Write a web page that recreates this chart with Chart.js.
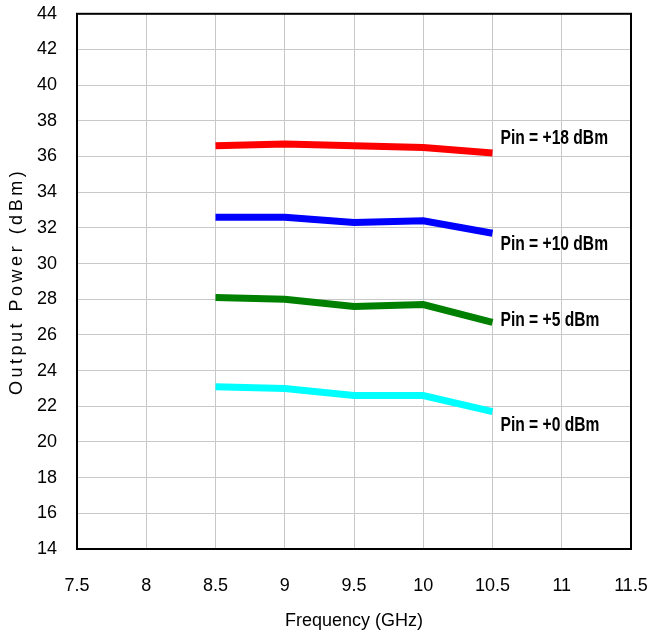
<!DOCTYPE html>
<html>
<head>
<meta charset="utf-8">
<script src="https://cdn.jsdelivr.net/npm/chart.js@4.4.1/dist/chart.umd.min.js"></script>
<style>
  html, body { margin: 0; padding: 0; background: #fff; overflow: hidden; }
  #wrap { width: 649px; height: 638px; overflow: hidden; }
  #powerChart { display: block; margin-top: -17px; }
</style>
</head>
<body>
<div id="wrap"><canvas id="powerChart" width="649" height="655"></canvas></div>
<script>
const freqs = [8.5, 9, 9.5, 10, 10.5];
const pin18 = [36.6, 36.7, 36.6, 36.5, 36.2];
const pin10 = [32.6, 32.6, 32.3, 32.4, 31.7];
const pin5 = [28.1, 28.0, 27.6, 27.7, 26.7];
const pin0 = [23.1, 23.0, 22.6, 22.6, 21.7];
const seriesNames = ["Pin = +18 dBm", "Pin = +10 dBm", "Pin = +5 dBm", "Pin = +0 dBm"];
const colors = ["#ff0000", "#0000ff", "#008000", "#00ffff"];
const yTitle = "Output Power (dBm)";

const tickFont = { family: "'Liberation Sans', Arial", size: 18 };

function toPoints(ys) {
  return freqs.map((x, i) => ({ x, y: ys[i] }));
}

// label offsets (px) from each line's last point
const labelOffsets = [-14, 11, -2, 14];

const frameAndLabels = {
  id: "frameAndLabels",
  afterDatasetsDraw(chart) {
    const { ctx, chartArea } = chart;
    ctx.save();
    ctx.strokeStyle = "#000";
    ctx.lineWidth = 2;
    ctx.strokeRect(chartArea.left, chartArea.top, chartArea.right - chartArea.left, chartArea.bottom - chartArea.top);

    ctx.fillStyle = "#000";
    ctx.font = "bold 20px 'Liberation Sans', Arial";
    ctx.textBaseline = "middle";
    ctx.textAlign = "left";
    chart.data.datasets.forEach((ds, i) => {
      const meta = chart.getDatasetMeta(i);
      const last = meta.data[meta.data.length - 1];
      ctx.save();
      ctx.translate(last.x + 8, last.y + labelOffsets[i]);
      ctx.scale(0.78, 1);
      ctx.fillText(ds.label, 0, 0);
      ctx.restore();
    });

    // y axis title, spaced out like the original
    ctx.font = "18px 'Liberation Sans', Arial";
    ctx.letterSpacing = "3.5px";
    ctx.textAlign = "center";
    ctx.translate(17, (chartArea.top + chartArea.bottom) / 2);
    ctx.rotate(-Math.PI / 2);
    ctx.fillText(yTitle, 0, 0);
    ctx.restore();
  },
};

const sets = [pin18, pin10, pin5, pin0];

new Chart(document.getElementById("powerChart"), {
  type: "line",
  data: {
    datasets: sets.map((ys, i) => ({
      label: seriesNames[i],
      data: toPoints(ys),
      borderColor: colors[i],
      backgroundColor: colors[i],
      borderWidth: 7,
      pointRadius: 0,
      tension: 0,
      fill: false,
    })),
  },
  options: {
    responsive: false,
    animation: false,
    layout: { padding: 0 },
    plugins: {
      legend: { display: false },
      tooltip: { enabled: false },
    },
    scales: {
      x: {
        type: "linear",
        min: 7.5,
        max: 11.5,
        ticks: {
          stepSize: 0.5,
          font: tickFont,
          color: "#000",
          padding: 26,
          callback: (v) => String(v),
        },
        grid: { color: "#c8c8c8", lineWidth: 1, drawTicks: false },
        border: { color: "#000", width: 2 },
        title: {
          display: true,
          text: "Frequency (GHz)",
          font: tickFont,
          color: "#000",
          padding: { top: 4, bottom: 6 },
        },
        afterFit(scale) {
          scale.height = 89;
          scale.paddingRight = 18;
          scale.paddingLeft = 0;
        },
      },
      y: {
        min: 14,
        max: 44,
        ticks: { stepSize: 2, font: tickFont, color: "#000", padding: 20 },
        grid: { color: "#c8c8c8", lineWidth: 1, drawTicks: false },
        border: { color: "#000", width: 2 },
        title: { display: false },
        afterFit(scale) { scale.width = 77; },
      },
    },
  },
  plugins: [frameAndLabels],
});
</script>
</body>
</html>
